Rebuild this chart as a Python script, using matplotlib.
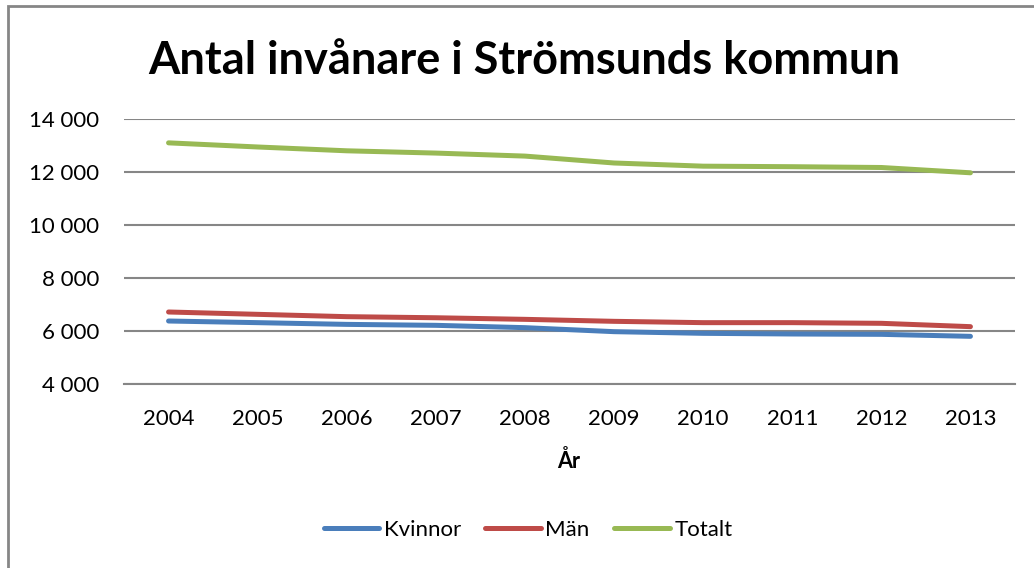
import matplotlib.pyplot as plt
from matplotlib import ticker
from matplotlib.patches import Rectangle

years = ['2004', '2005', '2006', '2007', '2008', '2009', '2010', '2011', '2012', '2013']
kvinnor = [6377, 6315, 6250, 6214, 6126, 5975, 5912, 5887, 5874, 5799]
man = [6717, 6629, 6541, 6500, 6440, 6365, 6315, 6315, 6290, 6164]
totalt = [13100, 12944, 12800, 12714, 12600, 12340, 12220, 12200, 12170, 11970]

plt.rcParams['font.family'] = ['Lato', 'DejaVu Sans']

fig = plt.figure(figsize=(10.34, 5.68), dpi=100)
ax = fig.add_axes([124 / 1034, 1 - 384 / 568, (1015 - 124) / 1034, (384 - 119) / 568])

x = range(len(years))
ax.plot(x, kvinnor, color='#4A7EBB', lw=3.6, label='Kvinnor', solid_capstyle='round')
ax.plot(x, man, color='#BE4B48', lw=3.6, label='Män', solid_capstyle='round')
ax.plot(x, totalt, color='#98B954', lw=3.6, label='Totalt', solid_capstyle='round')

ax.set_xlim(-0.5, len(years) - 0.5)
ax.set_ylim(4000, 14000)
ax.set_xticks(list(x))
ax.set_xticklabels(years)
ax.set_yticks(range(4000, 14001, 2000))
ax.yaxis.set_major_formatter(ticker.FuncFormatter(lambda v, p: f'{int(v):,}'.replace(',', ' ')))
ax.tick_params(length=0, labelsize=16, pad=18)
ax.grid(True, axis='y', color='#868686', lw=1.5)
ax.set_axisbelow(True)
for s in ['left', 'right', 'top']:
    ax.spines[s].set_visible(False)
ax.spines['bottom'].set_color('#868686')
ax.spines['bottom'].set_linewidth(1.5)

fig.text(0.507, 1 - 61 / 568, 'Antal invånare i Strömsunds kommun', ha='center', va='center',
         fontsize=32.5, fontweight='bold')
fig.text(569 / 1034, 1 - 461 / 568, 'År', ha='center', va='center', fontsize=15.5, fontweight='bold')

fig.legend(loc='center', bbox_to_anchor=(528 / 1034, 1 - 530 / 568), ncol=3, frameon=False,
           fontsize=16, handlelength=2.5, handletextpad=0.2, columnspacing=1.1)

# chart border (only left and top visible in the crop)
fig.patches.append(Rectangle((8 / 1034, -0.1), 1.2, 1 - 6 / 568 + 0.1, transform=fig.transFigure,
                             fill=False, edgecolor='#868686', lw=2))

fig.savefig('out.png', dpi=100)
